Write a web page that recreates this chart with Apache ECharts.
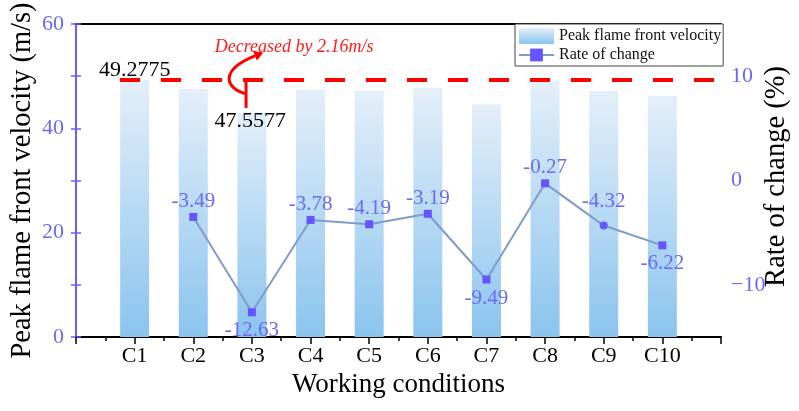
<!DOCTYPE html>
<html lang="en">
<head>
<meta charset="UTF-8">
<script src="https://cdn.jsdelivr.net/npm/echarts@6/dist/echarts.min.js"></script>
<title>Peak flame front velocity</title>
<style>
    html, body { margin: 0; padding: 0; background: #fff; }
    #chart { width: 799px; height: 411px; }
</style>
</head>
<body>
<div id="chart"></div>
<script>
    // data
    const categories = ['C1', 'C2', 'C3', 'C4', 'C5', 'C6', 'C7', 'C8', 'C9', 'C10'];
    const velocity = [49.28, 47.56, 43.05, 47.41, 47.21, 47.71, 44.60, 49.14, 47.15, 46.21];
    const rateOfChange = [null, -3.49, -12.63, -3.78, -4.19, -3.19, -9.49, -0.27, -4.32, -6.22];
    const baseVelocity = 49.2775;
    const markedVelocity = '47.5577';
    const decreaseNote = 'Decreased by 2.16m/s';

    // label placement per point (style only)
    const labelSide = ['top', 'top', 'bottom', 'top', 'top', 'top', 'bottom', 'top', 'top', 'bottom'];
    const labelGap = [1, 1, 4, 1, 1, 1, 4, 1, 10, 4];

    const serif = 'Liberation Serif, Times New Roman, serif';
    const purple = '#6b5cff';
    const purpleText = '#6a6af4';

    const chart = echarts.init(document.getElementById('chart'));

    const lineData = [];
    rateOfChange.forEach(function (r, i) {
        if (r === null) return;
        lineData.push({
            value: [i + 1, r],
            symbol: i === 8 ? 'circle' : 'rect',
            label: { position: labelSide[i], distance: labelGap[i] }
        });
    });

    const option = {
        backgroundColor: '#fff',
        animation: false,
        textStyle: { fontFamily: serif },
        grid: { left: 76, right: 78, top: 24, bottom: 74, containLabel: false, outerBoundsMode: 'none' },
        legend: {
            orient: 'vertical',
            left: 515,
            top: 24,
            itemWidth: 35,
            itemHeight: 16,
            itemGap: 3,
            padding: [4, 2, 3, 3],
            borderColor: '#444',
            borderWidth: 1,
            backgroundColor: '#fff',
            textStyle: { fontSize: 16, color: '#111', fontFamily: serif },
            data: [
                { name: 'Peak flame front velocity', icon: 'rect' },
                { name: 'Rate of change' }
            ]
        },
        xAxis: [{
            type: 'value',
            min: 0,
            max: 11,
            interval: 1,
            position: 'bottom',
            axisLine: { show: true, onZero: false, lineStyle: { color: '#000', width: 2 } },
            axisTick: { show: true, inside: false, length: 7, lineStyle: { color: '#000', width: 1.5 } },
            minorTick: { show: true, splitNumber: 2, length: 4, lineStyle: { color: '#000', width: 1.5 } },
            splitLine: { show: false },
            axisLabel: {
                margin: 8,
                fontSize: 22,
                color: '#000',
                fontFamily: serif,
                formatter: function (v) { return categories[v - 1] || ''; }
            },
            name: 'Working conditions',
            nameLocation: 'middle',
            nameGap: 34,
            nameMoveOverlap: false,
            nameTextStyle: { fontSize: 27, color: '#000', fontFamily: serif }
        }, {
            type: 'value',
            min: 0,
            max: 11,
            position: 'top',
            axisLine: { show: true, onZero: false, lineStyle: { color: '#000', width: 2 } },
            axisTick: { show: false },
            axisLabel: { show: false },
            splitLine: { show: false }
        }],
        yAxis: [{
            type: 'value',
            min: 0,
            max: 60,
            interval: 20,
            position: 'left',
            axisLine: { show: true, lineStyle: { color: purple, width: 2 } },
            axisTick: { show: true, inside: true, length: 5, lineStyle: { color: purple, width: 1.5 } },
            minorTick: { show: true, splitNumber: 2, length: 5, lineStyle: { color: purple, width: 1.5 } },
            splitLine: { show: false },
            axisLabel: { margin: 12, fontSize: 22, color: purpleText, fontFamily: serif },
            name: 'Peak flame front velocity (m/s)',
            nameLocation: 'middle',
            nameRotate: 90,
            nameGap: 39,
            nameMoveOverlap: false,
            nameTextStyle: { fontSize: 28.5, color: '#000', fontFamily: serif }
        }, {
            type: 'value',
            min: -15,
            max: 15,
            interval: 5,
            position: 'right',
            axisLine: { show: true, lineStyle: { color: purple, width: 2 } },
            axisTick: { show: true, inside: true, length: 5, lineStyle: { color: purple, width: 1.5 } },
            splitLine: { show: false },
            axisLabel: {
                margin: 10,
                fontSize: 22,
                color: purpleText,
                fontFamily: serif,
                formatter: function (v) {
                    return v % 10 === 0 ? String(v).replace('-', '\u2212') : '';
                }
            },
            name: 'Rate of change (%)',
            nameLocation: 'middle',
            nameRotate: 90,
            nameGap: 41,
            nameMoveOverlap: false,
            nameTextStyle: { fontSize: 28.5, color: '#000', fontFamily: serif, padding: [0, 0, 0, 8] }
        }],
        series: [{
            name: 'Peak flame front velocity',
            type: 'bar',
            barWidth: 29,
            data: velocity.map(function (v, i) { return [i + 1, v]; }),
            itemStyle: {
                color: new echarts.graphic.LinearGradient(0, 0, 0, 1, [
                    { offset: 0, color: '#e4eff9' },
                    { offset: 1, color: '#8ac4ee' }
                ])
            },
            markLine: {
                silent: true,
                symbol: ['none', 'none'],
                label: { show: false },
                lineStyle: { color: '#ff0000', width: 4, type: [20, 21] },
                data: [[{ coord: [0.75, baseVelocity] }, { coord: [11, baseVelocity] }]]
            }
        }, {
            name: 'Rate of change',
            type: 'line',
            yAxisIndex: 1,
            data: lineData,
            symbol: 'rect',
            symbolSize: 8,
            lineStyle: { color: '#7e9bcb', width: 2 },
            itemStyle: { color: '#6655ff' },
            label: {
                show: true,
                fontSize: 21,
                color: purpleText,
                fontFamily: serif,
                formatter: function (p) { return p.value[1].toFixed(2); }
            },
            z: 3
        }]
    };
    chart.setOption(option);

    // annotations, placed from data coordinates
    function px(x, y) { return chart.convertToPixel({ gridIndex: 0 }, [x, y]); }
    const pBase = px(1.0, 51.2);
    const pMarked = px(2.97, 41.4);
    const pNote = px(3.72, 55.6);
    const pTop = px(2.9, baseVelocity);
    const pBottom = px(2.9, 43.9);
    const a = px(2.9, 46.6);
    const end = [a[0] + 9, a[1] - 38];
    const cp2 = [a[0] - 26, a[1] - 24];
    let dx = end[0] - cp2[0], dy = end[1] - cp2[1];
    const len = Math.sqrt(dx * dx + dy * dy);
    dx /= len; dy /= len;
    const tip = [end[0] + dx * 9, end[1] + dy * 9];

    chart.setOption({
        graphic: [{
            type: 'text', x: pBase[0], y: pBase[1], z: 10,
            style: { text: String(baseVelocity), fill: '#000', font: '22px ' + serif, align: 'center', verticalAlign: 'middle' }
        }, {
            type: 'text', x: pMarked[0], y: pMarked[1], z: 10,
            style: { text: markedVelocity, fill: '#000', font: '22px ' + serif, align: 'center', verticalAlign: 'middle' }
        }, {
            type: 'text', x: pNote[0], y: pNote[1], z: 10,
            style: { text: decreaseNote, fill: '#ff1a1a', font: 'italic 18px ' + serif, align: 'center', verticalAlign: 'middle' }
        }, {
            type: 'line', z: 10,
            shape: { x1: pTop[0], y1: pTop[1], x2: pBottom[0], y2: pBottom[1] },
            style: { stroke: '#ff0000', lineWidth: 3 }
        }, {
            type: 'bezierCurve', z: 10,
            shape: { x1: a[0], y1: a[1], cpx1: a[0] - 22, cpy1: a[1] - 6, cpx2: cp2[0], cpy2: cp2[1], x2: end[0], y2: end[1] },
            style: { stroke: '#ff0000', lineWidth: 3, fill: 'none' }
        }, {
            type: 'polygon', z: 10,
            shape: { points: [tip, [end[0] - dy * 5, end[1] + dx * 5], [end[0] + dy * 5, end[1] - dx * 5]] },
            style: { fill: '#ff0000' }
        }]
    });
</script>
</body>
</html>
